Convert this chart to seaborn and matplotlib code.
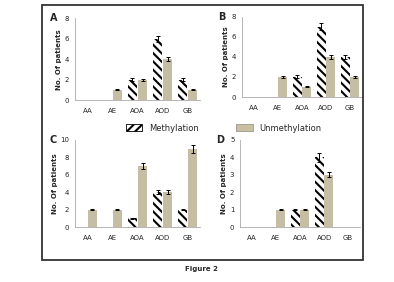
import numpy as np
import pandas as pd
import matplotlib
matplotlib.use('Agg')
import matplotlib.pyplot as plt
import seaborn as sns
from matplotlib.patches import Rectangle, Patch

sns.set_style('white')
plt.rcParams['font.family'] = ['DejaVu Sans']
plt.rcParams['hatch.linewidth'] = 1.5

groups = ['AA', 'AE', 'AOA', 'AOD', 'GB']
status = ['Methylation', 'Unmethylation']

# panel values
meth_A = [0, 0, 2, 6, 2]
unmeth_A = [0, 1, 2, 4, 1]
meth_err_A = [0, 0, 0.15, 0.3, 0.15]
unmeth_err_A = [0, 0.05, 0.1, 0.2, 0.05]

meth_B = [0, 0, 2, 7, 4]
unmeth_B = [0, 2, 1, 4, 2]
meth_err_B = [0, 0, 0.15, 0.35, 0.2]
unmeth_err_B = [0, 0.1, 0.05, 0.2, 0.1]

meth_C = [0, 0, 1, 4, 2]
unmeth_C = [2, 2, 7, 4, 9]
meth_err_C = [0, 0, 0.05, 0.2, 0.1]
unmeth_err_C = [0.1, 0.1, 0.4, 0.2, 0.45]

meth_D = [0, 0, 1, 4, 0]
unmeth_D = [0, 1, 1, 3, 0]
meth_err_D = [0, 0, 0.05, 0.25, 0]
unmeth_err_D = [0, 0.05, 0.05, 0.15, 0]

panels = [
    ('A', meth_A, unmeth_A, meth_err_A, unmeth_err_A, 8, [0.19, 0.645, 0.318, 0.29]),
    ('B', meth_B, unmeth_B, meth_err_B, unmeth_err_B, 8, [0.614, 0.656, 0.305, 0.284]),
    ('C', meth_C, unmeth_C, meth_err_C, unmeth_err_C, 10, [0.19, 0.195, 0.318, 0.309]),
    ('D', meth_D, unmeth_D, meth_err_D, unmeth_err_D, 5, [0.609, 0.195, 0.305, 0.309]),
]

tan = '#cbc09e'
fig = plt.figure(figsize=(3.94, 2.82), dpi=100)

for letter, m, u, me, ue, ymax, pos in panels:
    ax = fig.add_axes(pos)
    df = pd.DataFrame({'group': groups * 2,
                       'status': ['Methylation'] * 5 + ['Unmethylation'] * 5,
                       'value': m + u})
    sns.barplot(data=df, x='group', y='value', hue='status', hue_order=status,
                palette=['white', tan], width=0.8, gap=0.08, ax=ax,
                legend=False, errorbar=None, linewidth=0)
    bars = ax.patches
    for b in bars[:5]:
        b.set_hatch('\\\\\\\\')
        b.set_edgecolor('black')
        b.set_linewidth(0)
    xs = [b.get_x() + b.get_width() / 2 for b in bars]
    errs = me + ue
    vals = m + u
    for x, v, e in zip(xs, vals, errs):
        if v > 0:
            ax.errorbar(x, v, yerr=e, color='black', capsize=1.5, lw=0.7, capthick=0.7)
    ax.set_ylim(0, ymax)
    ax.set_yticks(range(0, ymax + 1, 2 if ymax > 5 else 1))
    ax.set_xlim(-0.5, 4.5)
    ax.set_xlabel('')
    ax.set_ylabel('No. Of patients', fontsize=5, fontweight='bold', labelpad=2)
    sns.despine(ax=ax)
    for s in ['left', 'bottom']:
        ax.spines[s].set_color('#aaaaaa')
        ax.spines[s].set_linewidth(0.6)
    ax.set_xticks([-0.5, 0.5, 1.5, 2.5, 3.5, 4.5], minor=False)
    ax.set_xticklabels([])
    ax.set_xticks(range(5), minor=True)
    ax.set_xticklabels(groups, minor=True)
    ax.tick_params(axis='x', which='major', length=2, color='#aaaaaa', width=0.6)
    ax.tick_params(axis='x', which='minor', length=0, labelsize=5, pad=6)
    ax.tick_params(axis='y', length=2, color='#aaaaaa', width=0.6, labelsize=5, pad=2)
    ax.text(-0.2, 1.0, letter, transform=ax.transAxes, fontsize=7,
            fontweight='bold', va='center', ha='left')

# legend between the rows
h1 = Patch(facecolor='white', edgecolor='black', hatch='////', lw=0.6)
h2 = Patch(facecolor=tan, edgecolor='#999999', lw=0.6)
fig.legend([h1], ['Methylation'], loc='center left', bbox_to_anchor=(0.3, 0.545),
           frameon=False, fontsize=6, handlelength=2, handleheight=0.9)
fig.legend([h2], ['Unmethylation'], loc='center left', bbox_to_anchor=(0.58, 0.545),
           frameon=False, fontsize=6, handlelength=2, handleheight=0.9)

fig.patches.append(Rectangle((0.107, 0.078), 0.815, 0.904, transform=fig.transFigure,
                             fill=False, edgecolor='#333333', lw=1.3))
fig.text(0.51, 0.045, 'Figure 2', ha='center', va='center', fontsize=5, fontweight='bold')

fig.savefig('out.png', dpi=100)
